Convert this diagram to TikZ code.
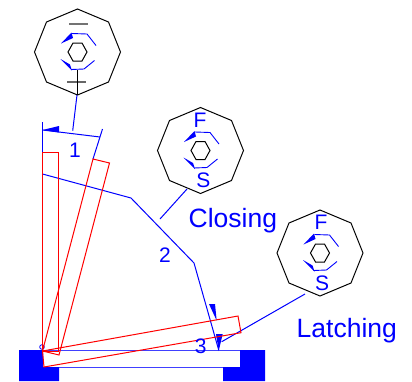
\documentclass[tikz,border=0pt]{standalone}
\usepackage{fontspec}
\setmainfont{Liberation Sans}
\definecolor{pureblue}{RGB}{0,0,255}
\definecolor{purered}{RGB}{255,0,0}
\tikzset{
  blueline/.style={draw=pureblue,line width=1pt},
  redline/.style={draw=purered,line width=1pt,line join=miter},
  wedge/.style={fill=pureblue,draw=none},
  octa/.style={draw=black,line width=1pt},
  smalllabel/.style={text=pureblue,inner sep=0pt,font=\fontsize{21}{21}\selectfont},
  biglabel/.style={text=pureblue,inner sep=0pt,font=\fontsize{26.5}{26.5}\selectfont},
  pics/lockface/.style={code={
    \draw[octa] (0,-43)--(31,-30)--(43,0)--(31,30)--(0,43)--(-31,30)--(-43,0)--(-31,-30)--cycle;
    \draw[octa] (-9.5,0)--(-4.5,-9)--(4.5,-9)--(9.5,0)--(4.5,9)--(-4.5,9)--cycle;
    \draw[blueline,line width=0.9pt] (18.5,-6.5)--(9.5,-18)--(-5.5,-18.5);
    \draw[blueline,line width=0.9pt] (17,8.5)--(6.5,17)--(-6.5,17.5);
    \fill[wedge] (-16.5,-8.5)--(-6,-19.5)--(-4.5,-14)--cycle;
    \fill[wedge] (-17,7)--(-7.5,12.5)--(-5.5,18.5)--cycle;
  }}
}
\begin{document}
\begin{tikzpicture}[x=1pt,y=-1pt]
\useasboundingbox (0,0) rectangle (412,381);
% coordinates
\coordinate (pivot) at (42,347);
\coordinate (arcL) at (42.5,130);
\coordinate (arcR) at (100,137);
% faces
\pic at (77.5,52) {lockface};
\pic at (200.5,150.5) {lockface};
\pic at (320,253) {lockface};
\draw[draw=black!55,line width=1.2pt] (69,24)--(88,24);
\draw[draw=black!60,line width=1.2pt] (67,82)--(86,82);
\draw[octa] (77.5,70)--(77.5,95);
\node[smalllabel] (faceF1) at (200,120.5) {F};
\node[smalllabel] (faceS1) at (203.5,180.5) {S};
\node[smalllabel] (faceF2) at (321,222.5) {F};
\node[smalllabel] (faceS2) at (322,283) {S};
% base
\fill[pureblue] (19,350)--(43,350)--(43,367)--(59,367)--(59,381)--(19,381)--cycle;
\fill[pureblue] (240,350)--(265,350)--(265,381)--(223,381)--(223,367)--(240,367)--cycle;
\draw[blueline,draw=pureblue!75] (43,350.5)--(240,350.5);
\draw[blueline,draw=pureblue!75] (59,367.5)--(223,367.5);
\draw[blueline,line width=0.8pt,fill=white] (pivot) circle (2.3);
% angle 1
\draw[blueline] (42.5,122)--(42.5,152);
\draw[blueline] (arcL)--(arcR);
\draw[blueline] (102.5,129)--(93,159);
\fill[wedge] (arcL)--(59,126)--(59,132.5)--cycle;
\draw[blueline] (77,95)--(72.7,130.7);
% travel line
\draw[blueline] (42.5,174)--(131,198)--(194,263)--(218.7,350);
\fill[wedge] (209,304)--(215,304)--(216.7,320.7)--cycle;
\fill[wedge] (216,334)--(222.7,334)--(218.7,351)--cycle;
\draw[blueline] (187,189)--(160,219);
\draw[blueline] (305,294)--(221.7,341.7);
% red bars
\draw[redline] (42.5,351)--(42.5,152.5)--(58.5,152.5)--(58.5,351)--cycle;
\draw[redline] (42.5,351)--(93,159)--(109.5,163)--(59,355)--cycle;
\draw[redline] (42.5,351)--(238,316)--(241,332.7)--(44,367)--cycle;
% labels
\node[smalllabel] (one) at (75,150.5) {1};
\node[smalllabel] (two) at (165,255) {2};
\node[smalllabel] (three) at (200.7,346) {3};
\node[biglabel,anchor=west] (closing) at (188.5,221) {Closing};
\node[biglabel,anchor=west] (latching) at (296.5,331) {Latching};
\end{tikzpicture}
\end{document}
